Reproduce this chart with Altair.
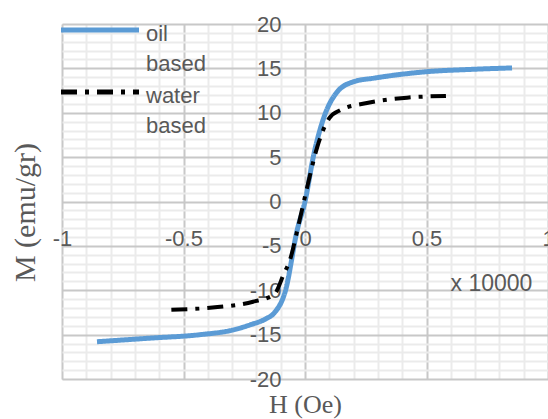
import altair as alt
import pandas as pd

# ---- data ----
oil_H = [-0.856, -0.64, -0.43, -0.3, -0.226, -0.16, -0.128, -0.08, -0.032, 0.0,
         0.037, 0.078, 0.131, 0.2, 0.284, 0.49, 0.695, 0.852]
oil_M = [-15.8, -15.4, -15.0, -14.5, -13.9, -13.2, -12.6, -10.0, -3.2, 0.0,
         5.4, 9.5, 12.3, 13.5, 13.9, 14.6, 14.9, 15.05]

water_H = [-0.55, -0.36, -0.214, -0.128, -0.086, -0.062, -0.028, 0.008, 0.05,
           0.1, 0.145, 0.255, 0.42, 0.58]
water_M = [-12.2, -11.9, -11.3, -10.5, -8.1, -6.6, -2.8, 1.5, 6.1,
           9.4, 10.3, 11.1, 11.7, 11.9]

series_names = ["oil based", "water based"]
series_colors = ["#5b9bd5", "#000000"]
series_dashes = [[1, 0], [16, 8, 4, 8]]

x_label_values = [-1, -0.5, 0, 0.5, 1]
y_label_values = [-20, -15, -10, -5, 0, 5, 10, 15, 20]
x_grid_values = [-1, -0.9, -0.8, -0.7, -0.6, -0.5, -0.4, -0.3, -0.2, -0.1, 0,
                 0.1, 0.2, 0.3, 0.4, 0.5, 0.6, 0.7, 0.8, 0.9, 1]
y_grid_values = list(range(-20, 21))

x_title = "H (Oe)"
y_title = "M (emu/gr)"
unit_note = "x 10000"

oil = pd.DataFrame({"H": oil_H, "M": oil_M, "series": series_names[0]})
water = pd.DataFrame({"H": water_H, "M": water_M, "series": series_names[1]})

W, H = 486, 355
GRAY = "#595959"
SANS = "Liberation Sans"
SERIF = "Liberation Serif"

xscale = alt.Scale(domain=[-1, 1], nice=False, zero=False)
yscale = alt.Scale(domain=[-20, 20], nice=False, zero=False)

grid_x_axis = alt.Axis(
    values=x_grid_values, grid=True, labels=False, ticks=False, domain=False,
    gridColor={"condition": {"test": "abs(round(datum.value*10)) % 5 === 0", "value": "#c8c8c8"}, "value": "#ebebeb"},
    gridWidth=2,
    title=x_title, titleFont=SERIF, titleFontSize=26, titleFontWeight="normal",
    titleColor=GRAY, titlePadding=12, orient="bottom",
)
grid_y_axis = alt.Axis(
    values=y_grid_values, grid=True, labels=False, ticks=False, domain=False,
    gridColor={"condition": {"test": "abs(datum.value) % 5 === 0", "value": "#c8c8c8"}, "value": "#ebebeb"},
    gridWidth=2,
    title=y_title, titleFont=SERIF, titleFontSize=30, titleFontWeight="normal",
    titleColor=GRAY, titlePadding=22, titleY=188, orient="left",
)
label_x_axis = alt.Axis(
    values=x_label_values, grid=False, ticks=False, tickSize=0, domain=False,
    offset=-H / 2, labelPadding=27, labelFlush=False, labelOverlap=False,
    labelExpr="'' + datum.value", labelFont=SANS, labelFontSize=22, labelColor=GRAY,
    title=unit_note, titleFont=SANS, titleFontSize=23, titleFontWeight="normal",
    titleColor=GRAY, titleX=388, titleY=82, titleAlign="left", titleBaseline="middle",
    orient="bottom",
)
label_y_axis = alt.Axis(
    values=y_label_values, grid=False, ticks=False, tickSize=0, domain=False,
    offset=-W / 2, labelPadding=24, labelOverlap=False, labelFlush=False,
    labelExpr="'' + datum.value", labelFont=SANS, labelFontSize=22, labelColor=GRAY,
    labelBaseline="middle", title=None, orient="left",
)

# symbol drawn as a 74px horizontal stroke from a small nominal symbol size
legend = alt.Legend(
    title=None, orient="none", legendX=-2, legendY=-11,
    symbolType="M-7.8,1.2H7.8", symbolSize=100, symbolStrokeWidth=5,
    symbolFillColor="transparent", symbolOffset=29,
    labelFont=SANS, labelFontSize=22, labelColor=GRAY,
    labelExpr="split(datum.label, ' ')", labelOffset=35,
    labelBaseline="top", rowPadding=0, labelLimit=200,
)

color = alt.Color("series:N", scale=alt.Scale(domain=series_names, range=series_colors), legend=legend)
dash = alt.StrokeDash("series:N", scale=alt.Scale(domain=series_names, range=series_dashes), legend=legend)

oil_line = alt.Chart(oil).mark_line(strokeWidth=5, interpolate="monotone").encode(
    x=alt.X("H:Q", scale=xscale, axis=grid_x_axis),
    y=alt.Y("M:Q", scale=yscale, axis=grid_y_axis),
    color=color, strokeDash=dash,
)
water_line = alt.Chart(water).mark_line(strokeWidth=4, interpolate="monotone", strokeCap="butt").encode(
    x=alt.X("H:Q", scale=xscale, axis=label_x_axis),
    y=alt.Y("M:Q", scale=yscale, axis=label_y_axis),
    color=color, strokeDash=dash,
)

chart = alt.layer(oil_line, water_line).resolve_axis(
    x="independent", y="independent"
).properties(
    width=W, height=H,
    autosize=alt.AutoSizeParams(type="none"),
    padding={"left": 62, "top": 24, "right": 0, "bottom": 40},
).configure_view(strokeWidth=0).configure(
    background="white", style={"guide-label": {"lineHeight": 30}}
)

chart.save("out.html", embed_options={"renderer": "svg", "actions": False})
